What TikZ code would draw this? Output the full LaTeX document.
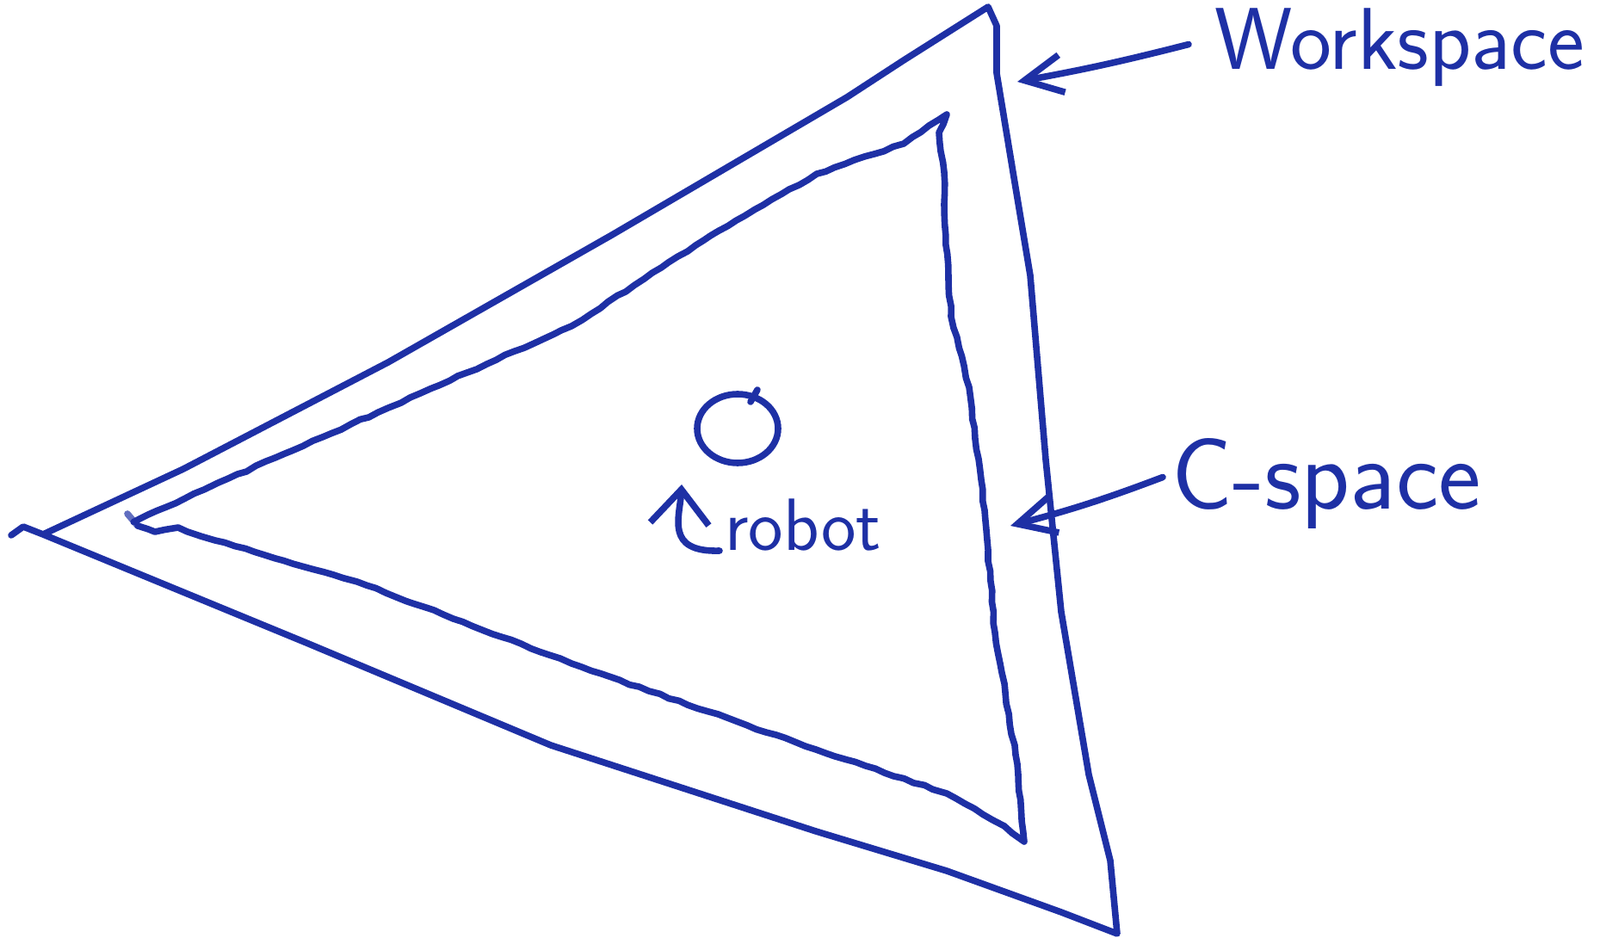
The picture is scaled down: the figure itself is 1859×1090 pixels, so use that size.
\documentclass[tikz,border=0pt]{standalone}
\usepackage{tikz}
\usetikzlibrary{arrows.meta,decorations.pathmorphing}
\definecolor{ink}{RGB}{30,48,165}

\tikzset{
  pen/.style={draw=ink, line width=3.8pt, line cap=round, line join=round},
  shaky/.style={decorate, decoration={random steps, segment length=6pt, amplitude=0.5pt}},
  pointer/.style={pen, -{Straight Barb[length=22pt,width=22pt]}},
  hand/.style={text=ink, inner sep=0pt, anchor=base west},
}

\begin{document}
\begin{tikzpicture}[x=0.5pt,y=-0.5pt]
  \useasboundingbox (0,0) rectangle (1859,1090);
  % workspace
  \draw[pen] (13,622) -- (27,612) -- (50,621) -- (356,747) -- (640,866)
    -- (948,966) -- (1100,1012) -- (1233,1060) -- (1298,1085)
    -- (1290,1000) -- (1265,900) -- (1233,711) -- (1215,534) -- (1197,320)
    -- (1177,200) -- (1158,85) -- (1158,30) -- (1148,8)
    -- (1050,70) -- (984,113) -- (711,273) -- (451,421) -- (213,545) -- (50,621);
  % c-space
  \draw[pen, ink!70] (148,597) -- (160,611);
  \draw[pen, shaky] (160,611) -- (180,618) -- (207,613) -- (233,623) -- (250,628)
    -- (415,676) -- (664,771) -- (948,871) -- (1100,922) -- (1167,960)
    -- (1190,978) -- (1183,900) -- (1180,877) -- (1156,735) -- (1144,593)
    -- (1126,450) -- (1105,368) -- (1097,237) -- (1097,200) -- (1091,154)
    -- (1100,133) -- (1050,167) -- (949,202) -- (818,279) -- (664,379)
    -- (451,474) -- (237,569) -- (163,603) -- (160,611);
  % robot
  \draw[pen] (857,498) ellipse [x radius=47, y radius=40];
  \draw[pen] (880,453) -- (872,467);

  \coordinate (wstip) at (1182,95);
  \coordinate (cstip) at (1174,611);
  \coordinate (rbtip) at (792,563);

  \node[hand, font=\sffamily\fontsize{51}{54}\selectfont] (ws) at (1411,81) {Workspace};
  \node[hand, font=\sffamily\fontsize{59}{62}\selectfont] (cs) at (1361,592) {C-space};
  \node[hand, font=\sffamily\fontsize{43}{46}\selectfont] (rb) at (842,640) {robot};

  \draw[pointer] ([xshift=-15pt,yshift=2pt]ws.west) to[bend left=2] (wstip);
  \draw[pointer] ([xshift=-5pt,yshift=4pt]cs.west) to[bend left=3] (cstip);
  \draw[pointer, -{Straight Barb[length=20pt,width=34pt]}]
    ([xshift=-3pt]rb.base west) .. controls (772,642) and (790,600) .. (rbtip);
\end{tikzpicture}
\end{document}
